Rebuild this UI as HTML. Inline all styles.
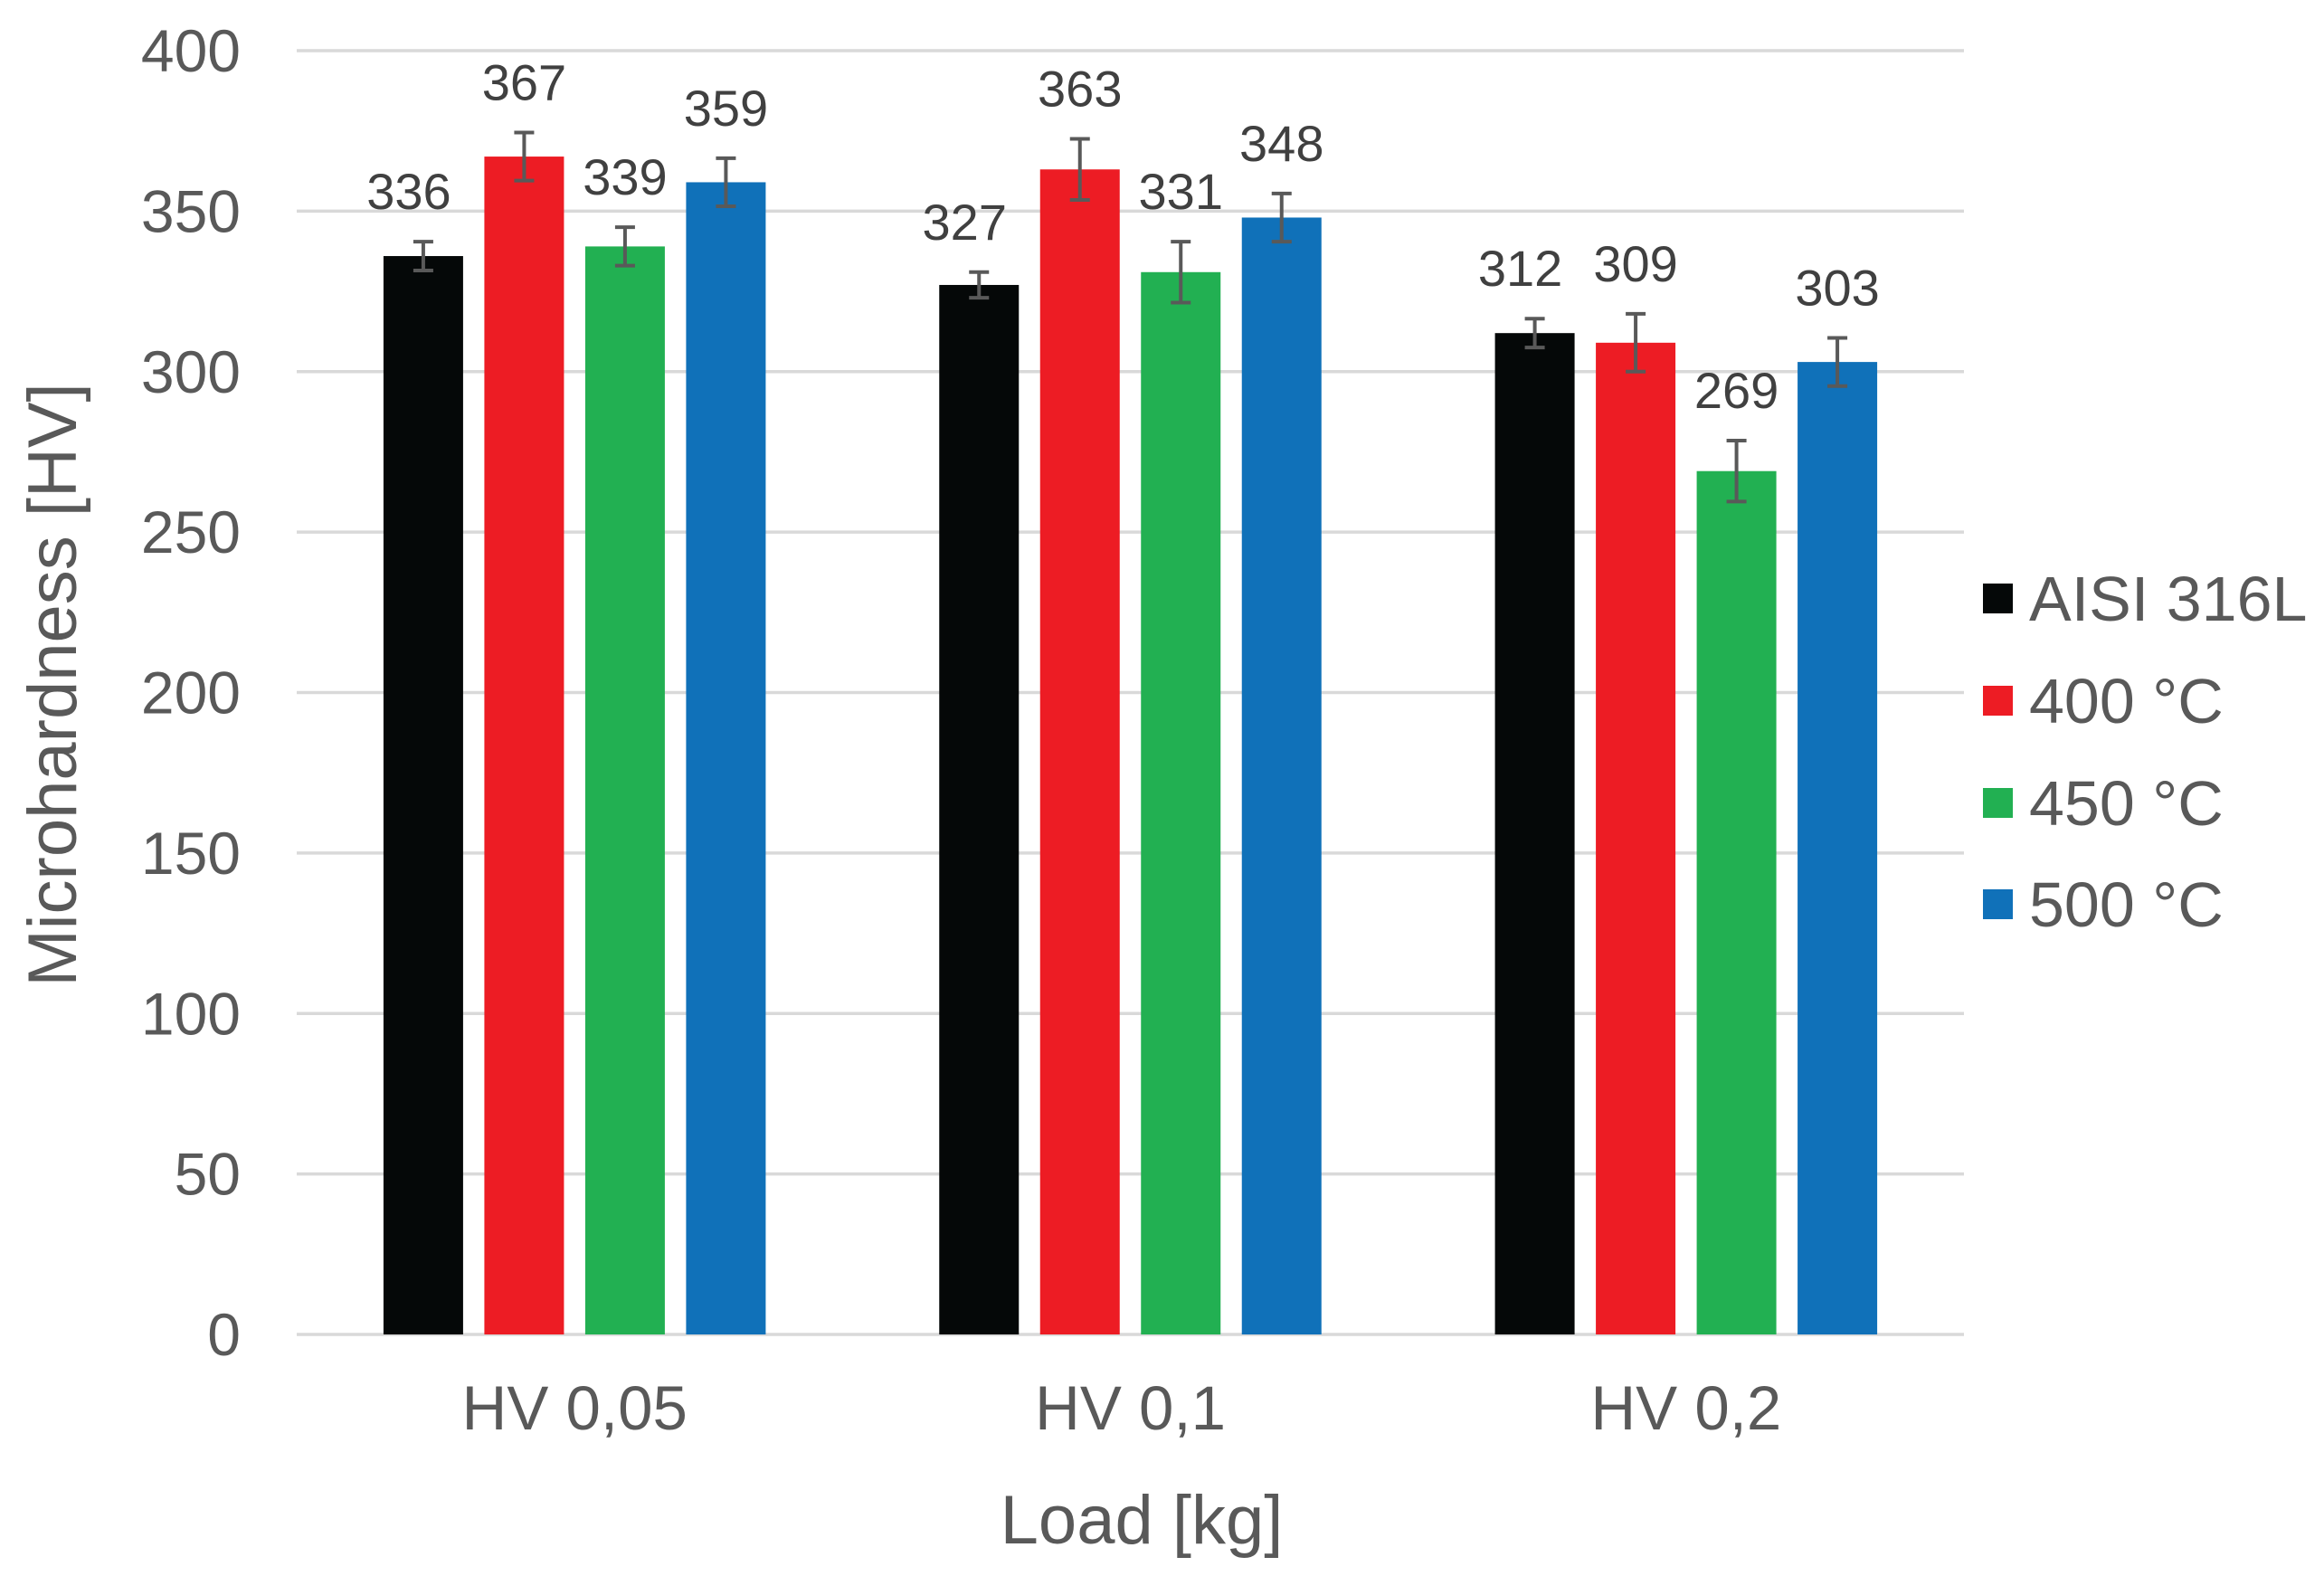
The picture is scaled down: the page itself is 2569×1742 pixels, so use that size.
<!DOCTYPE html>
<html><head><meta charset="utf-8"><style>
html,body{margin:0;padding:0;background:#fff;}
svg{display:block;font-family:"Liberation Sans",Arial,sans-serif;}
</style></head><body>
<svg id="chart" width="2569" height="1742" viewBox="0 0 2569 1742" xmlns="http://www.w3.org/2000/svg">
<g id="grid"></g>
<g id="yticks"></g>
<g id="bars"></g>
<g id="xticks"></g>
<text x="0" y="0" transform="translate(84,757) rotate(-90)" text-anchor="middle" font-size="76" fill="#595959">Microhardness  [HV]</text>
<text x="1262" y="1706" text-anchor="middle" font-size="76" fill="#595959">Load  [kg]</text>
<g id="legend"></g>
</svg>
<script>
const categories = ["HV 0,05", "HV 0,1", "HV 0,2"];
const seriesNames = ["AISI 316L", "400 °C", "450 °C", "500 °C"];
const seriesColors = ["#050808", "#ed1c24", "#22b052", "#1071b9"];
const s316L = [336, 327, 312];
const s400 = [367, 363, 309];
const s450 = [339, 331, 269];
const s500 = [359, 348, 303];
const e316L = [4.5, 4, 4.5];
const e400 = [7.5, 9.5, 9];
const e450 = [6, 9.5, 9.5];
const e500 = [7.5, 7.5, 7.5];
const yTicks = [0, 50, 100, 150, 200, 250, 300, 350, 400];

const values = [s316L, s400, s450, s500];
const errors = [e316L, e400, e450, e500];
const NS = "http://www.w3.org/2000/svg";
const plotL = 328, plotR = 2171, y0 = 1475, yTop = 56, yMax = 400;
const yScale = v => y0 - (v / yMax) * (y0 - yTop);
const catW = (plotR - plotL) / categories.length;
const xCenter = i => plotL + catW * (i + 0.5);
const barW = 88, barStep = 111.5;
const barX = (ci, si) => xCenter(ci) + (si - 1.5) * barStep - barW / 2;
function mk(tag, attrs, parent) {
  const el = document.createElementNS(NS, tag);
  for (const k in attrs) el.setAttribute(k, attrs[k]);
  parent.appendChild(el);
  return el;
}
const grid = document.getElementById('grid');
const yt = document.getElementById('yticks');
yTicks.forEach(t => {
  const l = mk('line', {x1: plotL, x2: plotR, y1: yScale(t), y2: yScale(t), stroke: '#d9d9d9', 'stroke-width': 3.5}, grid);
  
  
  const tx = mk('text', {x: 266, y: yScale(t) + 23, 'text-anchor': 'end', 'font-size': 66, fill: '#595959'}, yt);
  tx.textContent = t;
  
  
});
const bars = document.getElementById('bars');
categories.forEach((c, ci) => {
  values.forEach((ser, si) => {
    const v = ser[ci], e = errors[si][ci];
    const x = barX(ci, si);
    const r = mk('rect', {x: x, y: yScale(v), width: barW, height: y0 - yScale(v), fill: seriesColors[si]}, bars);
    
    
    const cx = x + barW / 2, yt1 = yScale(v + e), yb1 = yScale(v - e);
    const eb = mk('path', {d: `M${cx},${yt1}V${yb1}M${cx-11},${yt1}H${cx+11}M${cx-11},${yb1}H${cx+11}`, stroke: '#595959', 'stroke-width': 4, fill: 'none'}, bars);
    
    
    const lb = mk('text', {x: cx - (si === 0 ? 16 : 0), y: yt1 - 36, 'text-anchor': 'middle', 'font-size': 56, fill: '#404040'}, bars);
    lb.textContent = v;
    
    
  });
  const xt = mk('text', {x: xCenter(ci), y: 1580, 'text-anchor': 'middle', 'font-size': 69, fill: '#595959'}, document.getElementById('xticks'));
  xt.textContent = c;
  
  
});
const lg = document.getElementById('legend');
const legY = [662, 775, 888, 1000];
seriesNames.forEach((n, i) => {
  const sq = mk('rect', {x: 2192, y: legY[i] - 17, width: 33, height: 33, fill: seriesColors[i]}, lg);
  
  
  const t = mk('text', {x: 2243, y: legY[i] + 24, 'font-size': 70, fill: '#595959'}, lg);
  t.textContent = n;
  
  
});
</script>
</body></html>
